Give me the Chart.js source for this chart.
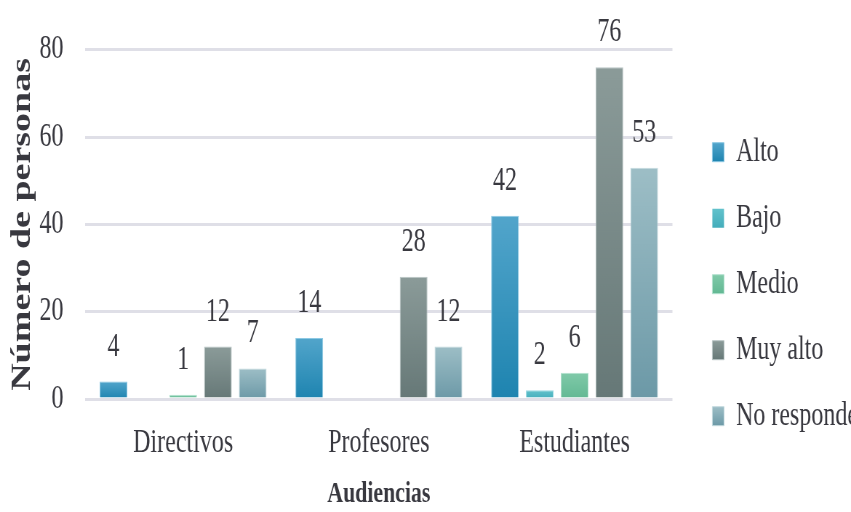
<!DOCTYPE html>
<html>
<head>
<meta charset="utf-8">
<script src="https://cdn.jsdelivr.net/npm/chart.js@4.4.0/dist/chart.umd.min.js"></script>
<style>
  html, body { margin: 0; padding: 0; background: #fff; overflow: hidden; }
  /* the reference is a horizontally squeezed picture, so draw wide and squeeze */
  #wrap { width: 1170px; height: 512px; transform: scaleX(0.72735); transform-origin: 0 0; }
</style>
</head>
<body>
<div id="wrap"><canvas id="chart" width="1170" height="512" style="width:1170px;height:512px"></canvas></div>
<script>
const audiencias = ['Directivos', 'Profesores', 'Estudiantes'];
const alto = [4, 14, 42];
const bajo = [0, 0, 2];
const medio = [1, 0, 6];
const muyAlto = [12, 28, 76];
const noResponde = [7, 12, 53];
const yTicks = [0, 20, 40, 60, 80];

const serif = '"Liberation Serif", "Times New Roman", serif';
const textColor = '#38383f';

// light top / dark bottom for each series
const shades = [
    ['#52a5cb', '#1e84b0', '#8cc8e3'],
    ['#62c2cc', '#44adbb', '#9ad8e2'],
    ['#80caa9', '#62b893', '#b3e2cf'],
    ['#8b9b99', '#667877', '#b9c5c5'],
    ['#9dbec6', '#6c99a7', '#c3d9de']
];

const gradient = (ctx, y1, y0, top, bottom) => {
    const g = ctx.createLinearGradient(0, y1, 0, y0);
    g.addColorStop(0, top);
    g.addColorStop(1, bottom);
    return g;
};

// vertical gradient per bar, light on top, darker at the base
const barFill = (top, bottom) => (c) => {
    const y = c.chart.scales.y;
    if (c.type !== 'data' || !y) return bottom;
    const y0 = y.getPixelForValue(0);
    const y1 = y.getPixelForValue(c.raw);
    if (!isFinite(y0) || !isFinite(y1) || y0 === y1) return bottom;
    return gradient(c.chart.ctx, y1, y0, top, bottom);
};
const edge = (v) => (c) => (c.type === 'data' && !c.raw ? 0 : v);

const makeSet = (label, data, i) => ({
    label: label,
    data: data,
    backgroundColor: barFill(shades[i][0], shades[i][1]),
    borderColor: shades[i][2],
    borderWidth: edge(1),
    borderSkipped: 'bottom',
    categoryPercentage: 0.889,
    barPercentage: 0.796
});

// numbers above the bars
const valueLabels = {
    id: 'valueLabels',
    afterDatasetsDraw(chart) {
        const ctx = chart.ctx;
        ctx.save();
        ctx.font = '33px ' + serif;
        ctx.fillStyle = textColor;
        ctx.textAlign = 'center';
        ctx.textBaseline = 'alphabetic';
        chart.data.datasets.forEach((ds, i) => {
            chart.getDatasetMeta(i).data.forEach((bar, j) => {
                const v = ds.data[j];
                if (!v) return;
                ctx.fillText(String(v), bar.x, bar.y - 26);
            });
        });
        ctx.restore();
    }
};

// same light-to-dark shading on the legend boxes
const legendShade = {
    id: 'legendShade',
    afterUpdate(chart) {
        const lg = chart.legend;
        if (!lg || !lg.legendItems || !lg.legendHitBoxes) return;
        const bh = lg.options.labels.boxHeight;
        lg.legendItems.forEach((item, i) => {
            const hb = lg.legendHitBoxes[i];
            if (!hb) return;
            const y1 = hb.top + (hb.height - bh) / 2;
            item.fillStyle = gradient(chart.ctx, y1, y1 + bh, shades[i][0], shades[i][1]);
        });
    }
};

new Chart(document.getElementById('chart'), {
    type: 'bar',
    data: {
        labels: audiencias,
        datasets: [
            makeSet('Alto', alto, 0),
            makeSet('Bajo', bajo, 1),
            makeSet('Medio', medio, 2),
            makeSet('Muy alto', muyAlto, 3),
            makeSet('No responde', noResponde, 4)
        ]
    },
    options: {
        responsive: false,
        animation: false,
        devicePixelRatio: 1,
        layout: { padding: { top: 42, left: 0, right: 0, bottom: 0 } },
        plugins: {
            tooltip: { enabled: false },
            legend: {
                position: 'right',
                maxWidth: 223.6,
                title: { display: true, text: ' ', font: { size: 2 }, padding: { top: 12, bottom: 0 } },
                labels: {
                    font: { size: 33, family: serif },
                    color: textColor,
                    boxWidth: 16,
                    boxHeight: 19,
                    padding: 33
                }
            }
        },
        scales: {
            x: {
                grid: { display: false, drawTicks: false },
                border: { display: false },
                ticks: { font: { size: 33, family: serif }, color: textColor, padding: 25 },
                title: {
                    display: true, text: 'Audiencias', color: textColor,
                    font: { size: 30, family: serif, weight: 'bold' },
                    padding: { top: 0, bottom: 0 }
                },
                afterFit: (s) => { s.height = 113; }
            },
            y: {
                min: 0,
                max: 80,
                afterBuildTicks: (s) => { s.ticks = yTicks.map(v => ({ value: v })); },
                grid: { color: '#dfdfe7', lineWidth: 3, drawTicks: false },
                border: { display: false },
                ticks: { font: { size: 33, family: serif }, color: textColor, padding: 30 },
                title: {
                    display: true, text: 'Número de personas', color: textColor,
                    font: { size: 38, family: serif, weight: 'bold' },
                    padding: { top: 8, bottom: 0 }
                },
                afterFit: (s) => { s.width = 117.2; }
            },
            // empty spacer between plot and legend
            gap: {
                type: 'linear',
                position: 'right',
                grid: { display: false },
                border: { display: false },
                ticks: { display: false },
                afterFit: (s) => { s.width = 21.9; }
            }
        }
    },
    plugins: [valueLabels, legendShade]
});
</script>
</body>
</html>
